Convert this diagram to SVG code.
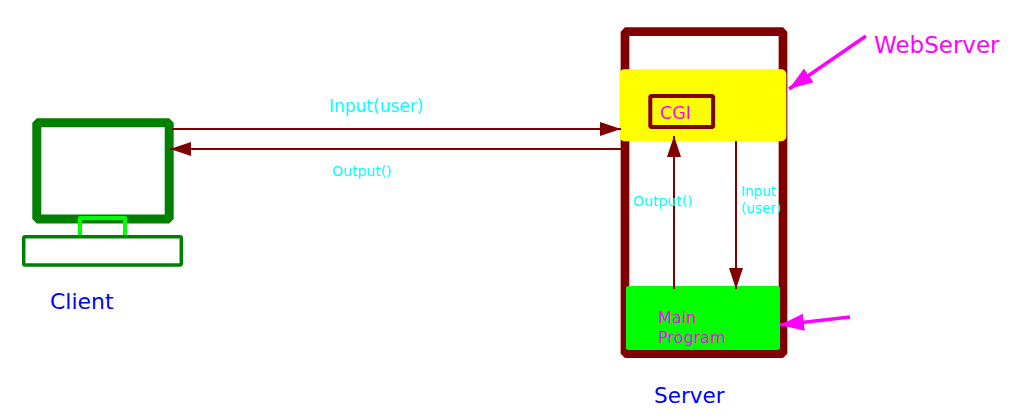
<svg xmlns="http://www.w3.org/2000/svg" width="1011" height="418" viewBox="0 0 1011 418">
<style>
text{font-family:"DejaVu Sans",sans-serif}
.c{fill:none;stroke:#800000;stroke-width:2}
.m{fill:none;stroke:#ff00ff;stroke-width:3.5}
.cy{fill:#00ffff;font-size:14px}
.cyb{fill:#00ffff;font-size:17px}
.mg{fill:#ff00ff}
.bl{fill:#0000ff;font-size:22px}
</style>
<defs>
<marker id="a" markerUnits="userSpaceOnUse" markerWidth="22" markerHeight="16" refX="21" refY="7" orient="auto"><path d="M0 0L21 7L0 14Z" fill="#800000"/></marker>
<marker id="p" markerUnits="userSpaceOnUse" markerWidth="26" markerHeight="20" refX="24" refY="8.5" orient="auto"><path d="M0 0L24 8.5L0 17Z" fill="#ff00ff"/></marker>
</defs>
<rect width="1011" height="418" fill="#fff"/>
<g id="server">
<rect x="625" y="31.7" width="158" height="322" fill="none" stroke="#800000" stroke-width="8.7" stroke-linejoin="bevel"/>
</g>
<g id="client">
<rect x="36.8" y="122.7" width="132.4" height="96.3" fill="none" stroke="#008000" stroke-width="9" stroke-linejoin="bevel"/>
<path d="M80 235V218H125V235" fill="none" stroke="#00ff00" stroke-width="4" stroke-linejoin="round"/>
<rect x="23.7" y="236.8" width="157.6" height="28.2" rx="1.5" fill="none" stroke="#008000" stroke-width="3.5"/>
<text x="50" y="309" class="bl">Client</text>
</g>
<g id="cgi-box">
<rect x="619.3" y="69.3" width="167" height="72" rx="5" fill="#ffff00"/>
<rect x="650.3" y="96" width="62.8" height="31" fill="none" stroke="#800000" stroke-width="4" stroke-linejoin="bevel"/>
<text x="660" y="119" class="mg" font-size="17.5">CGI</text>
</g>
<g id="main-program">
<rect x="626" y="286" width="154" height="64" rx="2.5" fill="#00ff00"/>
<text x="658" y="323" class="mg" font-size="16">Main</text>
<text x="658" y="343" class="mg" font-size="16">Program</text>
</g>
<g id="connectors">
<path class="c" d="M172 129H621" marker-end="url(#a)"/>
<path class="c" d="M621 149H170" marker-end="url(#a)"/>
<path class="c" d="M674 289V136" marker-end="url(#a)"/>
<path class="c" d="M736 141V289" marker-end="url(#a)"/>
<path class="m" d="M866 36L789 89" marker-end="url(#p)"/>
<path class="m" d="M850 317L780 325" marker-end="url(#p)"/>
</g>
<g id="labels">
<text x="329" y="112" class="cyb">Input(user)</text>
<text x="332" y="176" class="cy">Output()</text>
<text x="633" y="206" class="cy">Output()</text>
<text x="741" y="196" class="cy" style="font-size:13.6px">Input</text>
<text x="741" y="213" class="cy" style="font-size:13.6px">(user)</text>
<text x="874" y="53" class="mg" font-size="23">WebServer</text>
<text x="654" y="403" style="fill:#0000ff;font-size:21.5px">Server</text>
</g>
</svg>
